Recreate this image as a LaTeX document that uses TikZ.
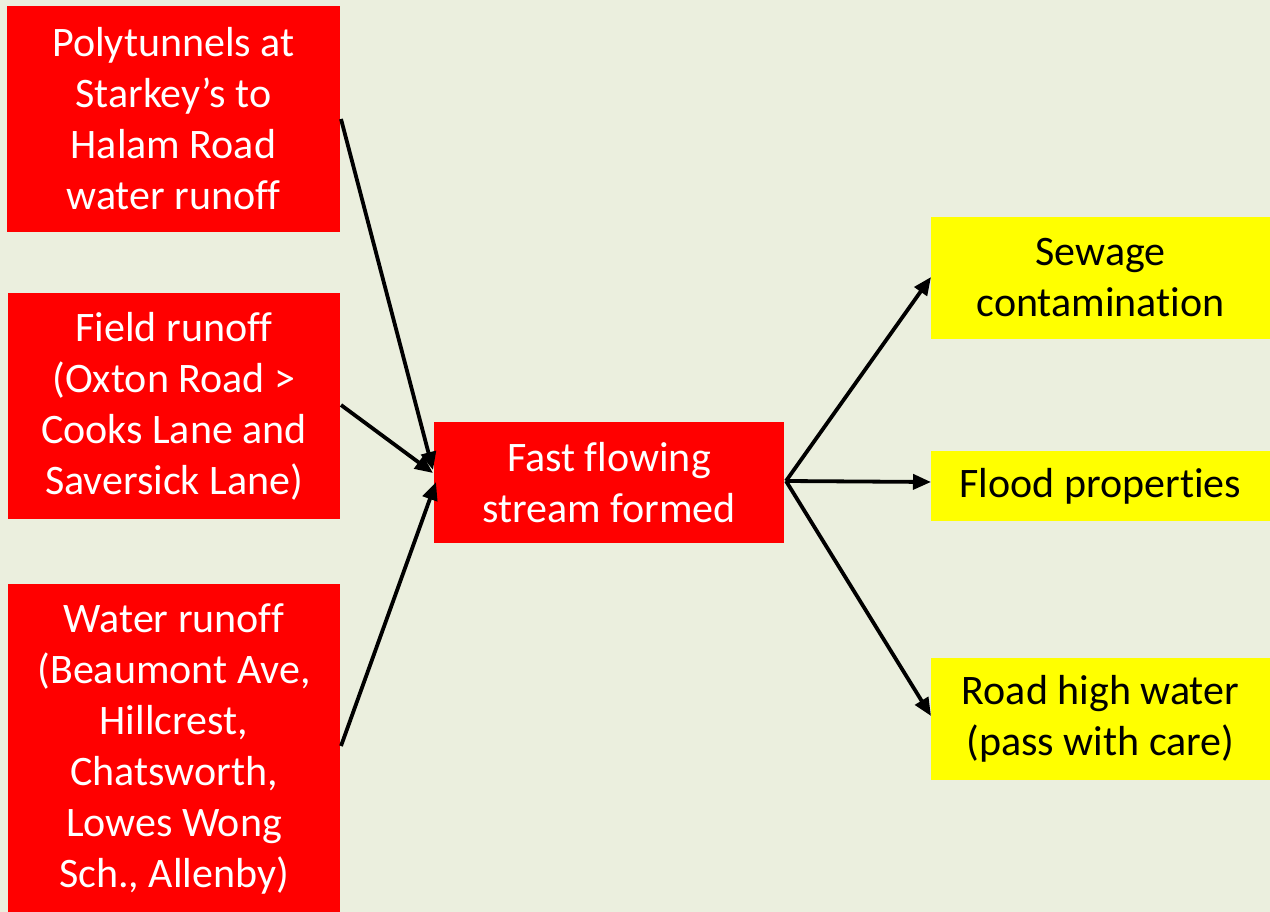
\documentclass[tikz,border=0pt]{standalone}
\usepackage{fontspec}
\setmainfont[Ligatures={NoCommon,NoRequired,NoContextual}]{Carlito}
\usetikzlibrary{arrows.meta}
\definecolor{bgc}{HTML}{EBEFDE}
\definecolor{redbox}{HTML}{FF0000}
\definecolor{yelbox}{HTML}{FFFF00}
\tikzset{
  box/.style={inner sep=0pt, align=center, font=\fontsize{42}{51}\selectfont},
  redb/.style={box, fill=redbox, text=white},
  yelb/.style={box, fill=yelbox, text=black},
  arr/.style={line width=3.8pt, -{Triangle[length=18pt,width=15pt]}}
}
\begin{document}
\begin{tikzpicture}[x=1pt,y=-1pt]
\fill[bgc] (0,0) rectangle (1270,912);
\useasboundingbox (0,0) rectangle (1270,912);
\node[redb, minimum width=333pt, minimum height=226pt] (a) at (173.5,119) {Polytunnels at\\Starkey’s to\\Halam Road\\water runoff};
\node[redb, minimum width=332pt, minimum height=226pt] (b) at (174,406) {Field runoff\\(Oxton Road >\\Cooks Lane and\\Saversick Lane)};
\node[redb, minimum width=332pt, minimum height=329pt] (c) at (174,748.5) {Water runoff\\(Beaumont Ave,\\Hillcrest,\\Chatsworth,\\Lowes Wong\\Sch., Allenby)};
\node[redb, minimum width=350pt, minimum height=121pt] (m) at (609,482.5) {Fast flowing\\stream formed};
\node[yelb, minimum width=339pt, minimum height=122pt] (s) at (1100.5,278) {Sewage\\contamination};
\node[yelb, minimum width=339pt, minimum height=70pt] (f) at (1100.5,486) {Flood properties};
\node[yelb, minimum width=339pt, minimum height=122pt] (r) at (1100.5,719) {Road high water\\(pass with care)};
\coordinate (a1) at (341,119);
\coordinate (b1) at (341,405);
\coordinate (c1) at (341,746);
\coordinate (m1) at (433,470);
\coordinate (m2) at (433,473);
\coordinate (m3) at (436,482);
\coordinate (mo) at (786,481);
\coordinate (s1) at (931,277);
\coordinate (f1) at (931,482);
\coordinate (r1) at (931,716);
\draw[arr] (a1) -- (m1);
\draw[arr] (b1) -- (m2);
\draw[arr] (c1) -- (m3);
\draw[arr] (mo) -- (s1);
\draw[arr] (mo) -- (f1);
\draw[arr] (mo) -- (r1);
\end{tikzpicture}
\end{document}
